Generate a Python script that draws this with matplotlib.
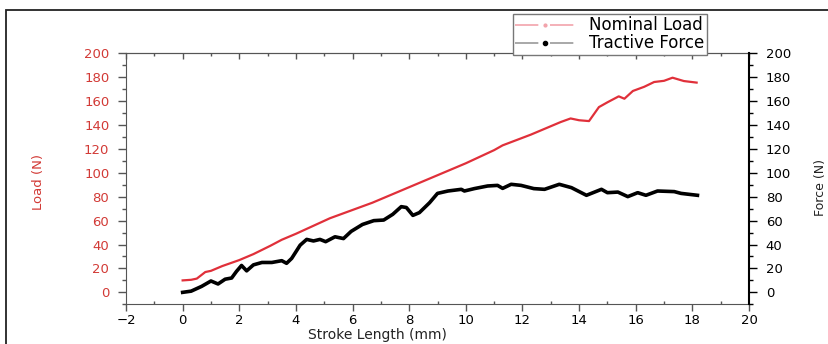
import matplotlib
matplotlib.use("Agg")
import matplotlib.pyplot as plt
from matplotlib.lines import Line2D
from matplotlib.patches import Rectangle
from matplotlib.ticker import MultipleLocator

plt.rcParams['font.family'] = ['DejaVu Sans']

# stroke length (mm) and nominal load (N)
load_x = [0, 0.3, 0.5, 0.8, 1.0, 1.4, 2.0, 2.5, 3.1, 3.5, 4.0, 5.2, 6.7, 8.0, 9.0,
          10.0, 11.0, 11.3, 12.3, 13.0, 13.35, 13.7, 14.0, 14.35, 14.7, 15.0, 15.4,
          15.6, 15.9, 16.3, 16.65, 17.0, 17.3, 17.7, 18.15]
load_y = [10, 10.5, 11.5, 17, 18, 22, 27, 32, 39, 44, 49, 62, 75, 88, 98,
          108, 119, 123, 132, 139, 142.5, 145.5, 144, 143.3, 155, 159, 164,
          162, 168.5, 172, 176, 177, 179.6, 176.8, 175.5]

# stroke length (mm) and tractive force (N)
force_x = [0, 0.3, 0.67, 1.0, 1.25, 1.5, 1.73, 1.9, 2.08, 2.26, 2.5, 2.8, 3.15, 3.5,
           3.67, 3.85, 4.15, 4.38, 4.62, 4.85, 5.05, 5.38, 5.68, 5.95, 6.35, 6.75,
           7.1, 7.42, 7.72, 7.9, 8.13, 8.36, 8.72, 9.0, 9.37, 9.84, 9.95, 10.3,
           10.77, 11.12, 11.3, 11.6, 11.95, 12.4, 12.78, 13.3, 13.73, 14.26, 14.79,
           15.0, 15.37, 15.72, 16.07, 16.36, 16.77, 17.36, 17.6, 18.18]
force_y = [0, 1, 5, 9.5, 7, 11, 12, 17.5, 22.5, 18, 23, 25, 25, 26.5,
           24.3, 28.4, 39.5, 44.3, 43, 44.3, 42.4, 46.5, 45, 51, 56.8, 60,
           60.5, 65.3, 71.7, 71, 64.4, 66.7, 75, 82.8, 84.8, 86.2, 84.8, 86.8,
           89, 89.5, 87, 90.4, 89.5, 86.8, 86.2, 90.4, 87.6, 81.2, 86.2,
           83.4, 83.9, 80.1, 83.4, 81.2, 84.8, 84.3, 82.8, 81.2]

red = '#e0303a'
label_red = '#d23a36'

fig = plt.figure(figsize=(8.29, 3.44), dpi=100)
ax = fig.add_axes([0.152, 0.1154, 0.7515, 0.7296])
ax2 = ax.twinx()

ax.plot(load_x, load_y, color=red, lw=1.6)
ax2.plot(force_x, force_y, color='black', lw=2.6)

ax.set_xlim(-2, 20)
ax.set_ylim(-10, 200)
ax2.set_ylim(-10, 200)

ax.xaxis.set_major_locator(MultipleLocator(2))
ax.xaxis.set_minor_locator(MultipleLocator(1))
for a in (ax, ax2):
    a.set_yticks(range(0, 201, 20))
    a.yaxis.set_minor_locator(MultipleLocator(10))

ax.tick_params(axis='x', which='major', direction='out', length=5, width=1,
               color='#555555', labelsize=9.5, pad=2, top=False)
ax.tick_params(axis='x', which='minor', direction='in', length=2, width=1,
               color='#555555', top=False)
ax.tick_params(axis='y', which='major', direction='out', length=6, width=1,
               color='#555555', labelsize=9.5, labelcolor=label_red, pad=6)
ax.tick_params(axis='y', which='minor', direction='out', length=3, width=1,
               color='#555555')
ax2.tick_params(axis='y', which='major', direction='out', length=6, width=1,
                color='black', labelsize=9.5, pad=6)
ax2.tick_params(axis='y', which='minor', direction='out', length=3, width=1,
                color='black')

# ticks on the top edge point inward
top = ax.secondary_xaxis('top')
top.xaxis.set_major_locator(MultipleLocator(2))
top.xaxis.set_minor_locator(MultipleLocator(1))
top.tick_params(which='major', direction='in', length=4, width=1, color='#555555',
                labeltop=False)
top.tick_params(which='minor', direction='in', length=2, width=1, color='#555555')
top.spines['top'].set_color('#555555')

for s in ('left', 'bottom', 'top'):
    ax.spines[s].set_color('#555555')
ax.spines['right'].set_visible(False)
ax2.spines['left'].set_visible(False)
ax2.spines['bottom'].set_visible(False)
ax2.spines['top'].set_visible(False)
ax2.spines['right'].set_color('black')
ax2.spines['right'].set_linewidth(1.5)

ax.set_xlabel('Stroke Length (mm)', fontsize=10, color='#222222')
ax.xaxis.set_label_coords(0.403, -0.095)
ax.set_ylabel('Load (N)', fontsize=9.5, color=label_red)
ax.yaxis.set_label_coords(-0.13, 0.487)
ax2.set_ylabel('Force (N)', fontsize=9, color='#222222', rotation=90)
ax2.yaxis.set_label_coords(1.104, 0.465)

# legend keys: dash, marker, dash
handles = [
    Line2D([], [], color='#f2a3ab', lw=1.2, ls=(0, (14, 7)), marker='.',
           markersize=4, markerfacecolor='#f2a3ab', markeredgecolor='#f2a3ab'),
    Line2D([], [], color='#9a9a9a', lw=1.2, ls=(0, (14, 7)), marker='.',
           markersize=6, markerfacecolor='black', markeredgecolor='black'),
]
fig.legend(handles, ['Nominal Load', 'Tractive Force'], loc='upper left',
           bbox_to_anchor=(513 / 829, 1 - 14 / 344), bbox_transform=fig.transFigure,
           borderaxespad=0, frameon=True, fancybox=False, edgecolor='#777777',
           framealpha=1, fontsize=12, handlelength=3.5, handletextpad=0.9,
           labelspacing=0.0, borderpad=0.15, numpoints=1)

# outer frame of the cropped figure
fig.add_artist(Rectangle((6 / 829, -0.2), 1.2, 1.2 - 10 / 344, transform=fig.transFigure,
                         fill=False, edgecolor='#222222', lw=1.3))

fig.savefig('out.png', dpi=100)
